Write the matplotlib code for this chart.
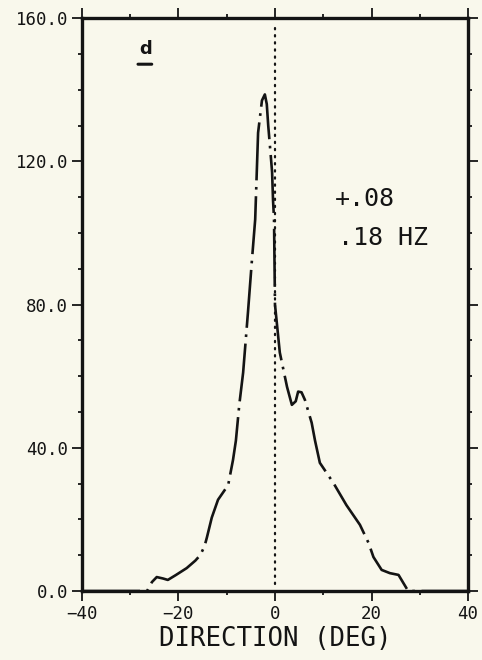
import matplotlib
matplotlib.use("Agg")
import matplotlib.pyplot as plt
from matplotlib.ticker import MultipleLocator, FormatStrFormatter

# Directional spectrum
direction = [-40, -26.5, -25.5, -24.5, -23.2, -22.2, -20.5, -18.3, -16.5, -15.5, -14.6,
             -14.1, -13.1, -11.8, -9.7, -8.7, -8.1, -7.4, -6.6, -5.6, -4.8, -4.1,
             -3.5, -2.7, -2.1, -1.7, -1.4, -0.9, -0.6, -0.4, -0.2, 0.0, 1.0, 2.5,
             3.5, 4.3, 4.8, 5.5, 6.2, 7.6, 8.3, 9.3, 12.1, 14.8, 17.6, 19.4,
             20.4, 22.1, 23.8, 25.6, 27.6, 40]
energy = [0, 0, 2.5, 3.9, 3.5, 3.1, 4.5, 6.4, 8.5, 10, 12.5,
          15, 20.5, 25.5, 29.6, 36.6, 42, 52, 61, 77.8, 92, 103.8,
          128, 137, 138.7, 136, 130, 122, 117, 109, 104, 80, 66.6, 57,
          52, 53, 55.7, 55.5, 53.4, 47, 42, 35.8, 30.2, 24, 18.5, 13.4,
          9.5, 5.9, 5.0, 4.5, 0, 0]

x_ticks = [-40, -20, 0, 20, 40]
y_ticks = [0.0, 40.0, 80.0, 120.0, 160.0]
label_top = "+.08"
label_bottom = ".18 HZ"
panel = "d"

bg = "#f9f8ec"
ink = "#141414"
mono = ["DejaVu Sans Mono"]

fig = plt.figure(figsize=(4.82, 6.6), dpi=100, facecolor=bg)
ax = fig.add_axes([0.170, 0.1045, 0.801, 0.868], facecolor=bg)

ax.plot(direction, energy, color=ink, lw=1.9,
        linestyle=(0, (22, 2.5, 1, 2.5)), solid_capstyle="round")
ax.plot([0, 0], [2, 158], color=ink, lw=1.6, linestyle=(0, (0.6, 2.6)),
        dash_capstyle="round")

ax.set_xlim(-40, 40)
ax.set_ylim(0, 160)
ax.set_xticks(x_ticks)
ax.set_yticks(y_ticks)
ax.xaxis.set_minor_locator(MultipleLocator(10))
ax.yaxis.set_minor_locator(MultipleLocator(10))
ax.yaxis.set_major_formatter(FormatStrFormatter("%.1f"))

for s in ax.spines.values():
    s.set_linewidth(2.4)
    s.set_color(ink)

ax.tick_params(which="major", direction="out", length=7, width=1.3, color=ink,
               top=True, right=True, labeltop=False, labelright=False,
               labelsize=12.5, pad=3)
ax.tick_params(which="minor", direction="out", length=3, width=1.3, color=ink,
               top=True, right=True)
for lab in ax.get_xticklabels() + ax.get_yticklabels():
    lab.set_family(mono)
    lab.set_color(ink)

ax.set_xlabel("DIRECTION (DEG)", family=mono, fontsize=18.5, color=ink, labelpad=2)

ax.text(12.4, 109.4, label_top, family=mono, fontsize=18, color=ink,
        ha="left", va="center")
ax.text(13.0, 98.5, label_bottom, family=mono, fontsize=18, color=ink,
        ha="left", va="center")
ax.text(-26.9, 151.5, panel, family=["DejaVu Sans"], fontsize=13, fontweight="bold",
        color=ink, ha="center", va="center")
ax.annotate("", xy=(0.138, 0.9196), xytext=(0.188, 0.9196), xycoords="axes fraction",
            arrowprops=dict(arrowstyle="-", lw=2.2, color=ink))

fig.savefig("out.png", dpi=100, facecolor=bg)
